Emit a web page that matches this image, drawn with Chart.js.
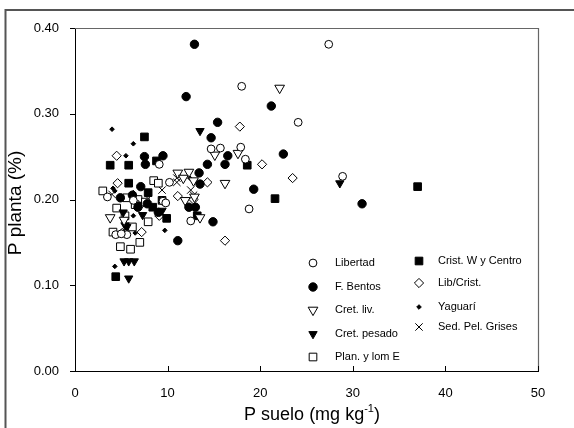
<!DOCTYPE html>
<html>
<head>
<meta charset="utf-8">
<script src="https://cdn.jsdelivr.net/npm/chart.js@4.4.1/dist/chart.umd.min.js"></script>
<style>
html,body{margin:0;padding:0;background:#fff;}
canvas{display:block;}
</style>
</head>
<body>
<canvas id="c" width="574" height="428"></canvas>
<script>
// ---- data ----
const seriesNames = ["Libertad","F. Bentos","Cret. liv.","Cret. pesado","Plan. y lom E","Crist. W y Centro","Lib/Crist.","Yaguarí","Sed. Pel. Grises"];

const libertadX = [27.4,18.0,24.1,28.9,14.7,15.7,17.9,18.4,9.1,3.5,18.8,12.5,4.4,5.6,9.5,10.2,6.3,9.8,5.0];
const libertadY = [0.381,0.332,0.290,0.227,0.259,0.260,0.261,0.247,0.241,0.203,0.189,0.175,0.159,0.159,0.198,0.220,0.199,0.196,0.160];

const bentosX = [12.9,12.0,15.4,21.2,14.7,22.5,16.5,16.2,14.3,13.4,13.5,19.3,31.0,14.9,11.1,12.3,13.0,9.5,7.5,7.6,7.1,4.9,6.8,6.2,7.8,9.0];
const bentosY = [0.381,0.320,0.290,0.309,0.272,0.253,0.251,0.241,0.241,0.231,0.218,0.212,0.195,0.174,0.152,0.191,0.191,0.251,0.250,0.241,0.215,0.202,0.191,0.205,0.195,0.185];

const cretLivX = [22.1,15.1,17.6,16.2,12.3,11.1,12.8,12.9,11.9,3.8,13.5,5.3,11.7];
const cretLivY = [0.330,0.252,0.254,0.219,0.232,0.231,0.222,0.203,0.199,0.179,0.179,0.176,0.225];

const cretPesX = [13.5,28.6,5.8,5.3,5.8,6.4,5.4,7.3,9.4,6.7,5.2,5.6];
const cretPesY = [0.280,0.219,0.108,0.128,0.128,0.128,0.170,0.182,0.187,0.194,0.185,0.168];

const planX = [3.0,8.5,9.0,6.8,4.5,4.1,4.9,6.0,7.0,7.9,5.4,6.2,6.5,5.6,7.6];
const planY = [0.210,0.222,0.219,0.200,0.190,0.162,0.145,0.142,0.150,0.174,0.181,0.168,0.194,0.202,0.197];

const cristX = [3.8,5.8,7.5,8.8,18.6,21.6,5.8,9.4,37.0,4.4,9.9,13.2,8.4,7.9];
const cristY = [0.240,0.240,0.273,0.245,0.240,0.201,0.219,0.199,0.215,0.110,0.178,0.181,0.191,0.208];

const libCristX = [4.5,4.6,17.8,20.2,14.3,11.1,7.3,23.5,16.2,9.1,7.2,5.1,12.8];
const libCristY = [0.251,0.219,0.285,0.241,0.220,0.204,0.196,0.225,0.152,0.181,0.162,0.161,0.200];

const yaguariX = [4.0,6.3,5.5,6.3,4.3,4.3,9.7,6.3,6.5,12.4,4.1];
const yaguariY = [0.282,0.265,0.251,0.208,0.210,0.122,0.164,0.181,0.161,0.225,0.213];

const sedX = [9.4,11.0,12.5,12.8,11.0,4.0,7.9];
const sedY = [0.211,0.220,0.211,0.205,0.225,0.206,0.201];

const xTicks = [0,10,20,30,40,50];
const yTicks = [0.00,0.10,0.20,0.30,0.40];

// ---- helpers ----
function pts(xs, ys){ return xs.map((x,i)=>({x:x, y:ys[i]})); }

const styles = [
  {pointStyle:'circle',   radius:3.9, rotation:0,   fill:'#fff', border:'#000', bw:1},
  {pointStyle:'circle',   radius:4.2, rotation:0,   fill:'#000', border:'#000', bw:1},
  {pointStyle:'triangle', radius:5.6, rotation:180, fill:'#fff', border:'#000', bw:1},
  {pointStyle:'triangle', radius:4.8, rotation:180, fill:'#000', border:'#000', bw:1},
  {pointStyle:'rect',     radius:5.4, rotation:0,   fill:'#fff', border:'#000', bw:1},
  {pointStyle:'rect',     radius:5.4, rotation:0,   fill:'#000', border:'#000', bw:1},
  {pointStyle:'rectRot',  radius:4.6, rotation:0,   fill:'#fff', border:'#000', bw:1},
  {pointStyle:'rectRot',  radius:2.3, rotation:0,   fill:'#000', border:'#000', bw:1},
  {pointStyle:'crossRot', radius:5.2, rotation:0,   fill:'#000', border:'#000', bw:1}
];
const seriesData = [
  pts(libertadX,libertadY), pts(bentosX,bentosY), pts(cretLivX,cretLivY),
  pts(cretPesX,cretPesY), pts(planX,planY), pts(cristX,cristY),
  pts(libCristX,libCristY), pts(yaguariX,yaguariY), pts(sedX,sedY)
];

const datasets = seriesNames.map((n,i)=>({
  label:n, data:seriesData[i], showLine:false,
  pointStyle:styles[i].pointStyle, pointRadius:styles[i].radius,
  pointRotation:styles[i].rotation,
  pointBackgroundColor:styles[i].fill, pointBorderColor:styles[i].border,
  pointBorderWidth:styles[i].bw, pointHoverRadius:styles[i].radius
}));

const FONT = "'Liberation Sans', Arial, Helvetica, sans-serif";

function drawMarker(ctx, st, x, y){
  ctx.save();
  ctx.fillStyle = st.fill; ctx.strokeStyle = st.border; ctx.lineWidth = st.bw;
  ctx.beginPath();
  const r = st.radius;
  if (st.pointStyle === 'circle') {
    ctx.arc(x, y, r, 0, Math.PI*2);
  } else if (st.pointStyle === 'rect') {
    const s = Math.SQRT1_2*r; ctx.rect(x-s, y-s, 2*s, 2*s);
  } else if (st.pointStyle === 'rectRot') {
    ctx.moveTo(x-r,y); ctx.lineTo(x,y-r); ctx.lineTo(x+r,y); ctx.lineTo(x,y+r); ctx.closePath();
  } else if (st.pointStyle === 'triangle') {
    let rad = st.rotation*Math.PI/180;
    for (let k=0;k<3;k++){ const a = rad + k*2*Math.PI/3;
      const px = x + Math.sin(a)*r, py = y - Math.cos(a)*r;
      if(k===0) ctx.moveTo(px,py); else ctx.lineTo(px,py); }
    ctx.closePath();
  } else if (st.pointStyle === 'crossRot') {
    const o = Math.SQRT1_2*r;
    ctx.moveTo(x-o,y-o); ctx.lineTo(x+o,y+o); ctx.moveTo(x+o,y-o); ctx.lineTo(x-o,y+o);
    ctx.stroke(); ctx.restore(); return;
  }
  ctx.fill(); ctx.stroke();
  ctx.restore();
}

const decor = {
  id:'decor',
  beforeDraw(chart){
    const ctx = chart.ctx;
    ctx.save(); ctx.fillStyle='#fff'; ctx.fillRect(0,0,chart.width,chart.height); ctx.restore();
  },
  afterDraw(chart){
    const ctx = chart.ctx, a = chart.chartArea;
    const xs = chart.scales.x, ys = chart.scales.y;
    ctx.save();
    // outer figure frame (top and left edges)
    ctx.strokeStyle = '#555'; ctx.lineWidth = 2;
    ctx.beginPath(); ctx.moveTo(5.5, 428); ctx.lineTo(5.5, 10); ctx.lineTo(574, 10); ctx.stroke();
    // plot frame top and right
    ctx.strokeStyle = '#666'; ctx.lineWidth = 1.2;
    ctx.beginPath(); ctx.moveTo(a.left, a.top+0.5); ctx.lineTo(a.right+0.5, a.top+0.5); ctx.lineTo(a.right+0.5, a.bottom); ctx.stroke();
    // ticks
    ctx.strokeStyle = '#000'; ctx.lineWidth = 1;
    ctx.beginPath();
    yTicks.forEach(v=>{ const py = Math.round(ys.getPixelForValue(v))+0.5; ctx.moveTo(a.left-5, py); ctx.lineTo(a.left, py); });
    xTicks.forEach(v=>{ const px = Math.round(xs.getPixelForValue(v))+0.5; ctx.moveTo(px, a.bottom); ctx.lineTo(px, a.bottom-5); });
    ctx.stroke();
    // axis titles
    ctx.fillStyle = '#000';
    ctx.font = "19px " + FONT;
    ctx.textAlign = 'center'; ctx.textBaseline = 'alphabetic';
    ctx.save(); ctx.translate(21, 203); ctx.rotate(-Math.PI/2); ctx.fillText('P planta (%)', 0, 0); ctx.restore();
    const t1 = 'P suelo (mg kg', sup = '-1', t2 = ')';
    ctx.font = "18px " + FONT; const w1 = ctx.measureText(t1).width, w3 = ctx.measureText(t2).width;
    ctx.font = "11px " + FONT; const w2 = ctx.measureText(sup).width;
    let sx = 312 - (w1+w2+w3)/2, by = 420;
    ctx.textAlign = 'left';
    ctx.font = "18px " + FONT; ctx.fillText(t1, sx, by);
    ctx.font = "11px " + FONT; ctx.fillText(sup, sx+w1, by-8);
    ctx.font = "18px " + FONT; ctx.fillText(t2, sx+w1+w2, by);
    // legend
    const col1 = {mx:313, tx:335, ys:[263,287,310,334,357]};
    const col2 = {mx:419, tx:438, ys:[261,283,307,327]};
    ctx.font = "11px " + FONT; ctx.textBaseline = 'middle'; ctx.textAlign = 'left';
    seriesNames.forEach((n,i)=>{
      const c = i<5 ? col1 : col2, yy = i<5 ? c.ys[i] : c.ys[i-5];
      const st = Object.assign({}, styles[i]);
      drawMarker(ctx, st, c.mx, yy);
      ctx.fillStyle = '#000';
      ctx.fillText(n, c.tx, yy);
    });
    ctx.restore();
  }
};

new Chart(document.getElementById('c'), {
  type:'scatter',
  data:{datasets:datasets},
  options:{
    responsive:false, animation:false, devicePixelRatio:1,
    layout:{padding:{left:0, top:28, right:36, bottom:0}},
    plugins:{legend:{display:false}, tooltip:{enabled:false}},
    scales:{
      x:{type:'linear', min:0, max:50,
         grid:{display:false}, border:{display:true, color:'#000', width:1},
         ticks:{stepSize:10, padding:7, color:'#000', font:{family:FONT, size:13},
                callback:(v)=> xTicks.includes(v) ? String(v) : ''},
         afterFit:(s)=>{ s.height = 57; }},
      y:{type:'linear', min:0, max:0.4,
         grid:{display:false}, border:{display:true, color:'#000', width:1},
         ticks:{stepSize:0.1, padding:8, color:'#000', font:{family:FONT, size:13},
                callback:(v)=> v.toFixed(2)},
         afterFit:(s)=>{ s.width = 75; }}
    }
  },
  plugins:[decor]
});
</script>
</body>
</html>
